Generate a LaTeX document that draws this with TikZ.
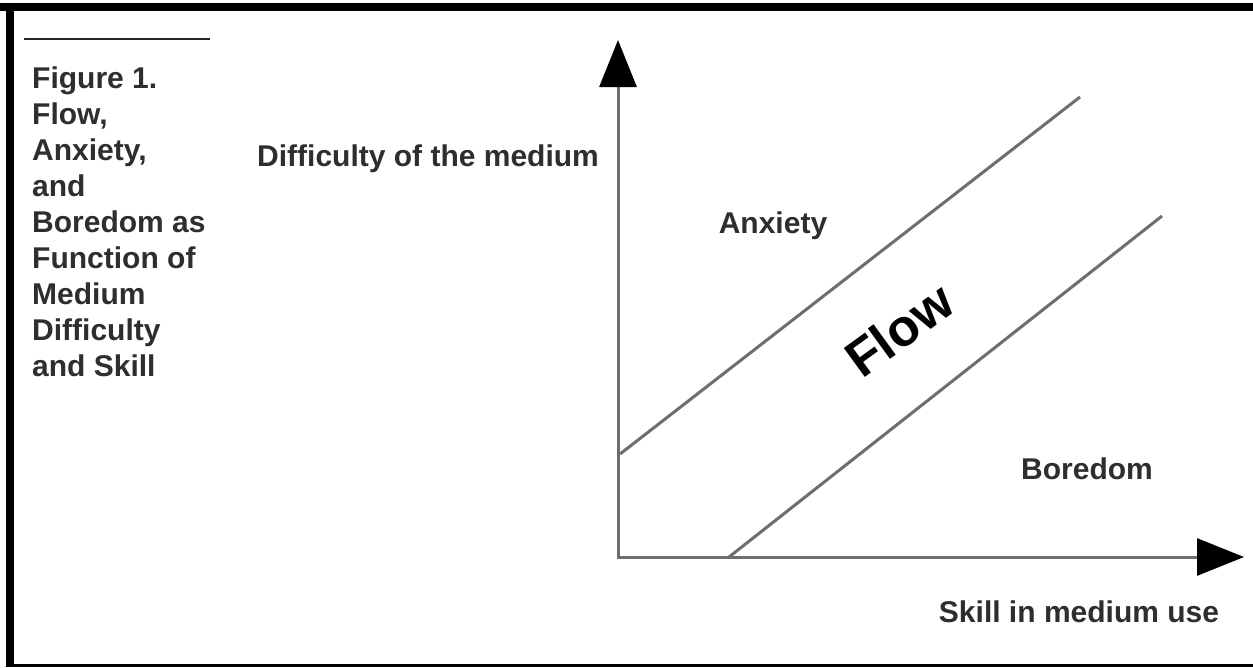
\documentclass[tikz,border=0pt]{standalone}
\usepackage{fontspec}
\setmainfont{Liberation Sans}
\usetikzlibrary{arrows.meta}
\definecolor{txt}{HTML}{2E2E2E}
\definecolor{ln}{HTML}{6E6E6E}
\tikzset{
  lbl/.style={font=\fontsize{30}{36}\selectfont\bfseries, text=txt, inner sep=0pt},
  axis/.style={draw=ln, line width=3pt, -{Triangle[length=47pt,width=37pt,color=black]}},
  diag/.style={draw=ln, line width=3pt},
}
\begin{document}
\begin{tikzpicture}[x=1pt,y=-1pt]
\useasboundingbox (0,0) rectangle (1253,667);
\fill[white] (0,0) rectangle (1253,667);
% frame
\fill[black] (0,3) rectangle (1253,11);
\fill[black] (6,3) rectangle (14,667);
\fill[black] (6,664) rectangle (1253,667);
% short rule
\coordinate (r1) at (24,39);
\coordinate (r2) at (210,39);
\draw[black!85, line width=2pt] (r1) -- (r2);
% caption
\node[lbl, anchor=north west, align=left] (cap) at (32,66.5)
  {Figure 1.\\Flow,\\Anxiety,\\and\\Boredom as\\Function of\\Medium\\Difficulty\\and Skill};
% axes
\coordinate (o) at (618,557);
\coordinate (ytip) at (618,40);
\coordinate (xtip) at (1244,557);
\draw[axis] (618,558.5) -- (ytip);
\draw[axis] (616.5,557) -- (xtip);
% diagonals
\coordinate (a1) at (620,454);
\coordinate (a2) at (1080,97);
\coordinate (b1) at (729,557);
\coordinate (b2) at (1162,216);
\draw[diag] (a1) -- (a2);
\draw[diag] (b1) -- (b2);
% labels
\node[lbl, anchor=base west] (ylab) at (257,166) {Difficulty of the medium};
\node[lbl] (anx) at (773,226) {Anxiety};
\node[lbl] (bor) at (1087,469) {Boredom};
\node[lbl] (xlab) at (1079,612) {Skill in medium use};
\node[font=\fontsize{52}{60}\selectfont\bfseries, text=black, inner sep=0pt, rotate=36] (flow) at (899,330) {Flow};
\end{tikzpicture}
\end{document}
